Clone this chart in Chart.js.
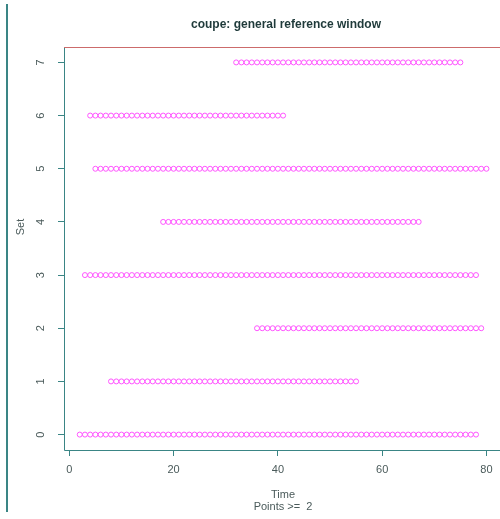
<!DOCTYPE html>
<html>
<head>
<meta charset="utf-8">
<script src="https://cdn.jsdelivr.net/npm/chart.js@4/dist/chart.umd.min.js"></script>
<style>
    html, body { margin: 0; padding: 0; background: #fff; overflow: hidden; }
    canvas { display: block; }
</style>
</head>
<body>
<canvas id="chart" width="500" height="519"></canvas>
<script>
// Sets (y) and the times (x) at which each set has a point
const sets = [0, 1, 2, 3, 4, 5, 6, 7];
const time0 = [2,3,4,5,6,7,8,9,10,11,12,13,14,15,16,17,18,19,20,21,22,23,24,25,26,27,28,29,30,31,32,33,34,35,36,37,38,39,40,41,42,43,44,45,46,47,48,49,50,51,52,53,54,55,56,57,58,59,60,61,62,63,64,65,66,67,68,69,70,71,72,73,74,75,76,77,78];
const time1 = [8,9,10,11,12,13,14,15,16,17,18,19,20,21,22,23,24,25,26,27,28,29,30,31,32,33,34,35,36,37,38,39,40,41,42,43,44,45,46,47,48,49,50,51,52,53,54,55];
const time2 = [36,37,38,39,40,41,42,43,44,45,46,47,48,49,50,51,52,53,54,55,56,57,58,59,60,61,62,63,64,65,66,67,68,69,70,71,72,73,74,75,76,77,78,79];
const time3 = [3,4,5,6,7,8,9,10,11,12,13,14,15,16,17,18,19,20,21,22,23,24,25,26,27,28,29,30,31,32,33,34,35,36,37,38,39,40,41,42,43,44,45,46,47,48,49,50,51,52,53,54,55,56,57,58,59,60,61,62,63,64,65,66,67,68,69,70,71,72,73,74,75,76,77,78];
const time4 = [18,19,20,21,22,23,24,25,26,27,28,29,30,31,32,33,34,35,36,37,38,39,40,41,42,43,44,45,46,47,48,49,50,51,52,53,54,55,56,57,58,59,60,61,62,63,64,65,66,67];
const time5 = [5,6,7,8,9,10,11,12,13,14,15,16,17,18,19,20,21,22,23,24,25,26,27,28,29,30,31,32,33,34,35,36,37,38,39,40,41,42,43,44,45,46,47,48,49,50,51,52,53,54,55,56,57,58,59,60,61,62,63,64,65,66,67,68,69,70,71,72,73,74,75,76,77,78,79,80];
const time6 = [4,5,6,7,8,9,10,11,12,13,14,15,16,17,18,19,20,21,22,23,24,25,26,27,28,29,30,31,32,33,34,35,36,37,38,39,40,41];
const time7 = [32,33,34,35,36,37,38,39,40,41,42,43,44,45,46,47,48,49,50,51,52,53,54,55,56,57,58,59,60,61,62,63,64,65,66,67,68,69,70,71,72,73,74,75];
const setTimes = [time0, time1, time2, time3, time4, time5, time6, time7];

const xTicks = [0, 20, 40, 60, 80];
const yTicks = [0, 1, 2, 3, 4, 5, 6, 7];

const titleText = 'coupe: general reference window';
const xLabel = 'Time';
const subLabel = 'Points >=  2';
const yLabel = 'Set';

const axisColor = '#3a8585';
const textColor = '#4a5a5a';
const pointColor = 'rgb(255, 85, 255)';
const fontFamily = '"Liberation Sans", Arial, sans-serif';

const datasets = sets.map((s, i) => ({
    label: 'Set ' + s,
    data: setTimes[i].map(t => ({ x: t, y: s })),
    pointStyle: 'circle',
    pointRadius: 2.5,
    pointBorderWidth: 1,
    pointBorderColor: pointColor,
    pointBackgroundColor: 'rgba(0,0,0,0)',
    showLine: false
}));

// draws the frame, the outer rule, title and axis texts like the R plot
const decorPlugin = {
    id: 'decor',
    afterDraw(chart) {
        const ctx = chart.ctx;
        const a = chart.chartArea;
        const xScale = chart.scales.x;
        const yScale = chart.scales.y;
        ctx.save();

        // outer left rule
        ctx.strokeStyle = axisColor;
        ctx.lineWidth = 2;
        ctx.beginPath();
        ctx.moveTo(7, 4);
        ctx.lineTo(7, 512);
        ctx.stroke();

        // box
        ctx.lineWidth = 1;
        ctx.strokeStyle = axisColor;
        ctx.beginPath();
        ctx.moveTo(a.left + 0.5, a.top);
        ctx.lineTo(a.left + 0.5, a.bottom + 0.5);
        ctx.lineTo(a.right, a.bottom + 0.5);
        ctx.stroke();
        ctx.strokeStyle = '#cc6b6b';
        ctx.beginPath();
        ctx.moveTo(a.left, a.top + 0.5);
        ctx.lineTo(a.right, a.top + 0.5);
        ctx.stroke();

        // title
        ctx.fillStyle = '#1f3a3a';
        ctx.font = 'bold 12px ' + fontFamily;
        ctx.textAlign = 'center';
        ctx.textBaseline = 'middle';
        ctx.fillText(titleText, 286, 25);

        // x tick labels and x labels
        ctx.fillStyle = textColor;
        ctx.font = '11px ' + fontFamily;
        xTicks.forEach(v => ctx.fillText(String(v), xScale.getPixelForValue(v), 470));
        ctx.fillText(xLabel, 283, 495);
        ctx.fillText(subLabel, 283, 507);

        // y tick labels and y label, rotated like R's default
        yTicks.forEach(v => {
            ctx.save();
            ctx.translate(41, yScale.getPixelForValue(v));
            ctx.rotate(-Math.PI / 2);
            ctx.fillText(String(v), 0, 0);
            ctx.restore();
        });
        ctx.save();
        ctx.translate(21, 227);
        ctx.rotate(-Math.PI / 2);
        ctx.fillText(yLabel, 0, 0);
        ctx.restore();

        ctx.restore();
    }
};

new Chart(document.getElementById('chart'), {
    type: 'scatter',
    data: { datasets: datasets },
    options: {
        responsive: false,
        animation: false,
        devicePixelRatio: 1,
        layout: { autoPadding: false, padding: { top: 47, left: 0, right: 0, bottom: 0 } },
        plugins: {
            legend: { display: false },
            tooltip: { enabled: false },
            title: { display: false }
        },
        scales: {
            x: {
                type: 'linear',
                min: -1.02,
                max: 82.6,
                afterBuildTicks: scale => { scale.ticks = xTicks.map(v => ({ value: v })); },
                afterFit: scale => { scale.height = 69; },
                border: { display: false },
                grid: { drawOnChartArea: false, drawTicks: true, tickLength: 6, color: axisColor, lineWidth: 1 },
                ticks: { display: false }
            },
            y: {
                type: 'linear',
                min: -0.29,
                max: 7.29,
                afterBuildTicks: scale => { scale.ticks = yTicks.map(v => ({ value: v })); },
                afterFit: scale => { scale.width = 64; },
                border: { display: false },
                grid: { drawOnChartArea: false, drawTicks: true, tickLength: 6, color: axisColor, lineWidth: 1 },
                ticks: { display: false }
            }
        }
    },
    plugins: [decorPlugin]
});
</script>
</body>
</html>
